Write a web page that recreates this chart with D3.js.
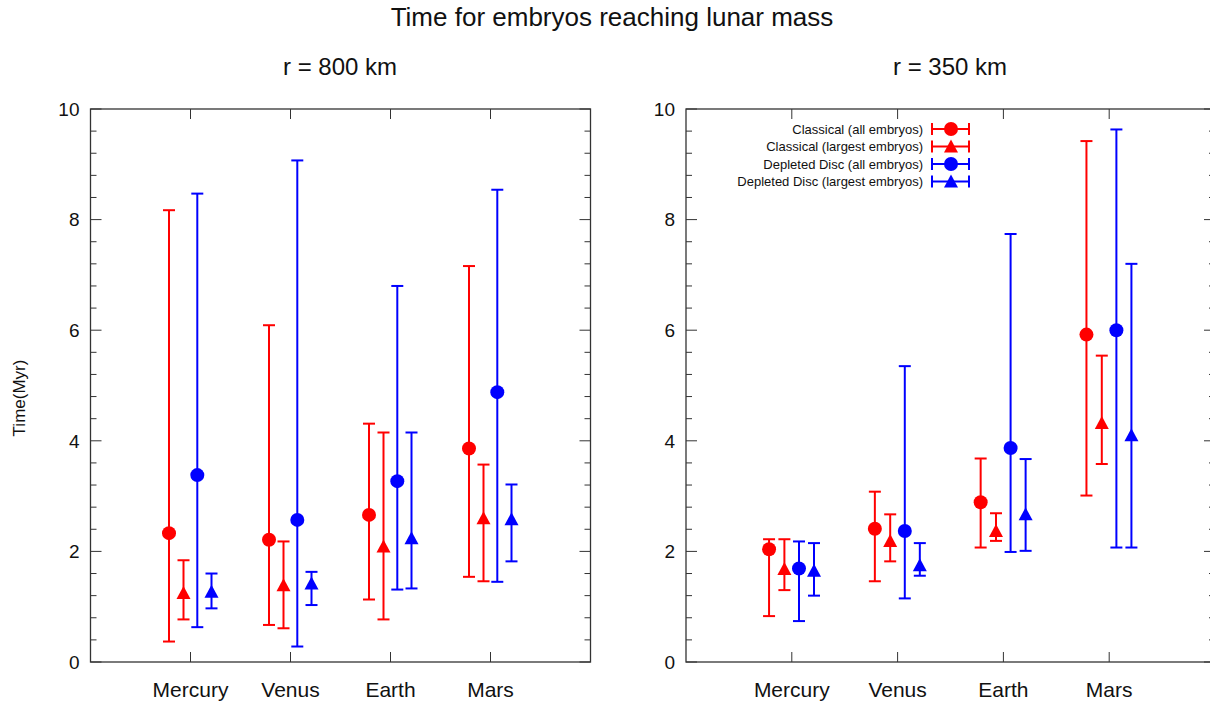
<!DOCTYPE html>
<html>
<head>
<meta charset="utf-8">
<script src="https://cdn.jsdelivr.net/npm/d3@7"></script>
<style>
  html, body { margin: 0; padding: 0; background: #fff; }
  svg text { font-family: "Liberation Sans", Arial, Helvetica, sans-serif; fill: #111; }
</style>
</head>
<body>
<svg id="chart" width="1210" height="705"></svg>
<script>
// ---- Data ----
const categories = ["Mercury", "Venus", "Earth", "Mars"];
const seriesNames = ["Classical (all embryos)", "Classical (largest embryos)", "Depleted Disc (all embryos)", "Depleted Disc (largest embryos)"];
const yTicks = [0, 2, 4, 6, 8, 10];

// r = 800 km
const classicalAll800      = [2.33, 2.21, 2.66, 3.86];
const classicalAll800Low   = [0.37, 0.67, 1.13, 1.54];
const classicalAll800High  = [8.17, 6.09, 4.31, 7.16];
const classicalLarge800     = [1.25, 1.39, 2.09, 2.60];
const classicalLarge800Low  = [0.77, 0.61, 0.77, 1.46];
const classicalLarge800High = [1.84, 2.18, 4.15, 3.57];
const depletedAll800       = [3.38, 2.57, 3.27, 4.88];
const depletedAll800Low    = [0.63, 0.28, 1.31, 1.45];
const depletedAll800High   = [8.47, 9.07, 6.80, 8.54];
const depletedLarge800     = [1.27, 1.42, 2.24, 2.58];
const depletedLarge800Low  = [0.97, 1.03, 1.33, 1.82];
const depletedLarge800High = [1.60, 1.63, 4.15, 3.21];

// r = 350 km
const classicalAll350      = [2.04, 2.41, 2.89, 5.92];
const classicalAll350Low   = [0.83, 1.46, 2.07, 3.01];
const classicalAll350High  = [2.22, 3.08, 3.68, 9.42];
const classicalLarge350     = [1.68, 2.19, 2.37, 4.32];
const classicalLarge350Low  = [1.30, 1.82, 2.19, 3.58];
const classicalLarge350High = [2.22, 2.67, 2.69, 5.54];
const depletedAll350       = [1.69, 2.37, 3.87, 6.00];
const depletedAll350Low    = [0.74, 1.15, 1.99, 2.07];
const depletedAll350High   = [2.18, 5.35, 7.74, 9.63];
const depletedLarge350     = [1.65, 1.75, 2.67, 4.10];
const depletedLarge350Low  = [1.20, 1.56, 2.01, 2.07];
const depletedLarge350High = [2.15, 2.15, 3.67, 7.20];

// ---- Styling ----
const colors = ["#ff0000", "#ff0000", "#0000ff", "#0000ff"];
const shapes = ["circle", "triangle", "circle", "triangle"];
const offsets = [-0.215, -0.07, 0.068, 0.21];

const panels = [
  { title: "r = 800 km", titleX: 340, xRange: [90.5, 590.5], showLegend: false,
    series: [
      [classicalAll800, classicalAll800Low, classicalAll800High],
      [classicalLarge800, classicalLarge800Low, classicalLarge800High],
      [depletedAll800, depletedAll800Low, depletedAll800High],
      [depletedLarge800, depletedLarge800Low, depletedLarge800High]
    ] },
  { title: "r = 350 km", titleX: 950, xRange: [686, 1215], showLegend: true,
    series: [
      [classicalAll350, classicalAll350Low, classicalAll350High],
      [classicalLarge350, classicalLarge350Low, classicalLarge350High],
      [depletedAll350, depletedAll350Low, depletedAll350High],
      [depletedLarge350, depletedLarge350Low, depletedLarge350High]
    ] }
];

const svg = d3.select("#chart");
const yTop = 109, yBottom = 662;
const y = d3.scaleLinear().domain([0, 10]).range([yBottom, yTop]);
const frameColor = "#333";

svg.append("text").attr("x", 612).attr("y", 26).attr("text-anchor", "middle")
  .style("font-size", "26px").text("Time for embryos reaching lunar mass");

svg.append("text").attr("transform", "translate(25,398) rotate(-90)")
  .attr("text-anchor", "middle").style("font-size", "17px").text("Time(Myr)");

function marker(g, shape, cx, cy, color, r) {
  if (shape === "circle") {
    g.append("circle").attr("cx", cx).attr("cy", cy).attr("r", r).attr("fill", color);
  } else {
    const p = d3.path();
    p.moveTo(cx, cy - r);
    p.lineTo(cx + r, cy + r * 0.86);
    p.lineTo(cx - r, cy + r * 0.86);
    p.closePath();
    g.append("path").attr("d", p.toString()).attr("fill", color);
  }
}

panels.forEach(panel => {
  const x = d3.scaleLinear().domain([0, 5]).range(panel.xRange);
  const g = svg.append("g");
  const x0 = panel.xRange[0], x1 = panel.xRange[1];

  g.append("text").attr("x", panel.titleX).attr("y", 75).attr("text-anchor", "middle")
    .style("font-size", "24px").text(panel.title);

  const minor = d3.range(0, 10.001, 0.4).filter(v => Math.abs(v / 2 - Math.round(v / 2)) > 1e-6);
  yTicks.forEach(v => {
    g.append("line").attr("x1", x0).attr("x2", x0 + 11).attr("y1", y(v)).attr("y2", y(v)).attr("stroke", frameColor).attr("stroke-width", 1);
    g.append("line").attr("x1", x1).attr("x2", x1 - 11).attr("y1", y(v)).attr("y2", y(v)).attr("stroke", frameColor).attr("stroke-width", 1);
    g.append("text").attr("x", x0 - 11).attr("y", y(v)).attr("dy", "0.36em").attr("text-anchor", "end")
      .style("font-size", "19px").text(v);
  });
  minor.forEach(v => {
    g.append("line").attr("x1", x0).attr("x2", x0 + 6).attr("y1", y(v)).attr("y2", y(v)).attr("stroke", frameColor).attr("stroke-width", 1);
    g.append("line").attr("x1", x1).attr("x2", x1 - 6).attr("y1", y(v)).attr("y2", y(v)).attr("stroke", frameColor).attr("stroke-width", 1);
  });

  categories.forEach((c, i) => {
    const xv = x(i + 1);
    g.append("line").attr("x1", xv).attr("x2", xv).attr("y1", yBottom).attr("y2", yBottom - 10).attr("stroke", frameColor);
    g.append("line").attr("x1", xv).attr("x2", xv).attr("y1", yTop).attr("y2", yTop + 10).attr("stroke", frameColor);
    g.append("text").attr("x", xv).attr("y", 697).attr("text-anchor", "middle").style("font-size", "21px").text(c);
  });

  g.append("rect").attr("x", x0).attr("y", yTop).attr("width", x1 - x0).attr("height", yBottom - yTop)
    .attr("fill", "none").attr("stroke", frameColor).attr("stroke-width", 1.3);

  panel.series.forEach((s, si) => {
    const [vals, lows, highs] = s;
    const col = colors[si];
    vals.forEach((v, i) => {
      const xv = x(i + 1 + offsets[si]);
      g.append("line").attr("x1", xv).attr("x2", xv).attr("y1", y(lows[i])).attr("y2", y(highs[i]))
        .attr("stroke", col).attr("stroke-width", 2);
      [lows[i], highs[i]].forEach(e => {
        g.append("line").attr("x1", xv - 6).attr("x2", xv + 6).attr("y1", y(e)).attr("y2", y(e))
          .attr("stroke", col).attr("stroke-width", 2);
      });
      marker(g, shapes[si], xv, y(v), col, 7);
    });
  });

  if (panel.showLegend) {
    const ly = [129, 146.5, 164, 181.5];
    seriesNames.forEach((name, si) => {
      const col = colors[si];
      g.append("text").attr("x", 923).attr("y", ly[si]).attr("dy", "0.35em").attr("text-anchor", "end")
        .style("font-size", "13px").text(name);
      g.append("line").attr("x1", 932).attr("x2", 969).attr("y1", ly[si]).attr("y2", ly[si]).attr("stroke", col).attr("stroke-width", 2);
      [932, 969].forEach(xx => g.append("line").attr("x1", xx).attr("x2", xx).attr("y1", ly[si] - 6).attr("y2", ly[si] + 6).attr("stroke", col).attr("stroke-width", 2));
      marker(g, shapes[si], 951, ly[si], col, 7);
    });
  }
});
</script>
</body>
</html>
